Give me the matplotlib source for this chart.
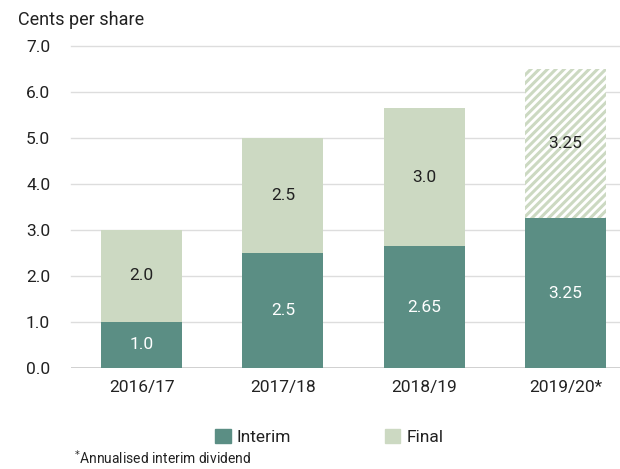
import numpy as np
import matplotlib.pyplot as plt
from matplotlib.patches import Patch

plt.rcParams['font.family'] = ['Roboto', 'DejaVu Sans']
plt.rcParams['hatch.linewidth'] = 2.2

years = ["2016/17", "2017/18", "2018/19", "2019/20*"]
interim = [1.0, 2.5, 2.65, 3.25]
final = [2.0, 2.5, 3.0, 3.25]
interim_labels = ["1.0", "2.5", "2.65", "3.25"]
final_labels = ["2.0", "2.5", "3.0", "3.25"]
yticks = [0.0, 1.0, 2.0, 3.0, 4.0, 5.0, 6.0, 7.0]

c_int = "#5b8e84"
c_fin = "#ccd9c2"
txt = "#222222"
fs = 12.5

fig = plt.figure(figsize=(6.2, 4.69), dpi=100)
ax = fig.add_axes([0.1145, 0.2154, 0.8855, 0.6865])

x = np.arange(len(years))
w = 0.573
ax.bar(x, interim, w, color=c_int, zorder=2)
for i in range(len(years)):
    if i == 3:
        # forecast final shown hatched
        ax.bar(x[i], final[i], w, bottom=interim[i], facecolor="white",
               edgecolor=c_fin, hatch="////", linewidth=0, zorder=2)
    else:
        ax.bar(x[i], final[i], w, bottom=interim[i], color=c_fin, zorder=2)
    ax.text(x[i], interim[i] / 2, interim_labels[i], ha="center", va="center",
            color="white", fontsize=fs, zorder=3)
    ax.text(x[i], interim[i] + final[i] / 2, final_labels[i], ha="center",
            va="center", color=txt, fontsize=fs, zorder=3)

ax.set_xlim(-0.5, 3.386)
ax.set_ylim(0, 7)
ax.set_yticks(yticks)
ax.set_yticklabels(["%.1f" % v for v in yticks])
ax.set_xticks(x)
ax.set_xticklabels(years)
ax.tick_params(axis="y", length=0, pad=15, labelsize=fs, labelcolor=txt)
ax.tick_params(axis="x", length=0, pad=9, labelsize=fs, labelcolor=txt)

for s in ax.spines.values():
    s.set_visible(False)
for v in yticks[1:]:
    ax.axhline(v, color="#dddddd", lw=1, zorder=1, clip_on=False)
ax.axhline(0, color="#cccccc", lw=2, zorder=1)

fig.text(0.029, 0.958, "Cents per share", fontsize=13, color=txt, va="center")

handles = [Patch(color=c_int, label="Interim"), Patch(color=c_fin, label="Final")]
fig.legend(handles=handles, loc="center", bbox_to_anchor=(0.531, 0.068),
           ncol=2, frameon=False, fontsize=fs, handlelength=0.9,
           handleheight=0.9, handletextpad=0.35, columnspacing=5.4,
           labelcolor=txt)

fig.text(0.119, 0.004, r"$^{*}$Annualised interim dividend", fontsize=10,
         color=txt, va="bottom")

fig.savefig("out.png", dpi=100)
